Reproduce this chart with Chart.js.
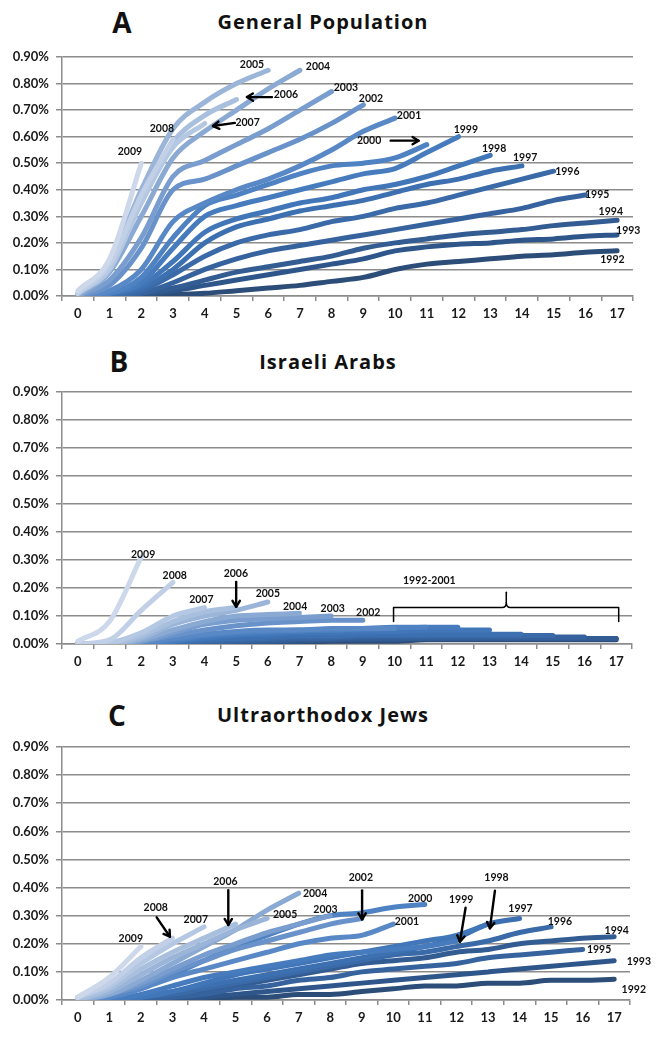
<!DOCTYPE html>
<html><head><meta charset="utf-8">
<script src="https://cdn.jsdelivr.net/npm/chart.js@4.4.1/dist/chart.umd.min.js"></script>
<style>
html,body{margin:0;padding:0;background:#fff}
body{width:658px;height:1048px;position:relative;overflow:hidden;font-family:Lato,'Open Sans',sans-serif}
.panel{position:absolute;left:0;width:658px}
.letter{position:absolute;font-family:'Open Sans',Lato,sans-serif;font-weight:bold;font-size:28px;transform:translate(-50%,-50%);color:#111;line-height:1}
.title{position:absolute;font-family:'Open Sans',Lato,sans-serif;font-weight:bold;font-size:20px;letter-spacing:1px;transform:translate(-50%,-50%);color:#111;white-space:nowrap;line-height:1}
canvas{display:block}
</style></head><body>
<div class="letter" style="left:122px;top:22px">A</div>
<div class="title" style="left:323px;top:22px">General Population</div>
<div class="panel" style="top:40px"><canvas id="cA" width="658" height="290"></canvas></div>

<div class="letter" style="left:119px;top:361px">B</div>
<div class="title" style="left:328px;top:362px">Israeli Arabs</div>
<div class="panel" style="top:372px"><canvas id="cB" width="658" height="306"></canvas></div>

<div class="letter" style="left:117px;top:715px">C</div>
<div class="title" style="left:323px;top:715px">Ultraorthodox Jews</div>
<div class="panel" style="top:727px"><canvas id="cC" width="658" height="307"></canvas></div>

<script>
// ---------- DATA ----------
const years = [1992,1993,1994,1995,1996,1997,1998,1999,2000,2001,2002,2003,2004,2005,2006,2007,2008,2009];
const xLabels = [0,1,2,3,4,5,6,7,8,9,10,11,12,13,14,15,16,17];
const yTicks = [0,0.1,0.2,0.3,0.4,0.5,0.6,0.7,0.8,0.9];

// Panel A: General Population (cumulative %, by years since cohort start)
const generalPopulation = [
  /*1992*/ [0,0,0,0.005,0.01,0.02,0.03,0.04,0.055,0.07,0.10,0.12,0.13,0.14,0.15,0.155,0.165,0.17],
  /*1993*/ [0,0,0.005,0.02,0.04,0.06,0.08,0.10,0.12,0.14,0.17,0.185,0.195,0.20,0.21,0.215,0.225,0.23],
  /*1994*/ [0,0,0.01,0.03,0.06,0.09,0.11,0.13,0.15,0.18,0.20,0.215,0.23,0.24,0.25,0.265,0.275,0.285],
  /*1995*/ [0,0,0.01,0.05,0.10,0.14,0.17,0.19,0.21,0.23,0.25,0.27,0.29,0.31,0.33,0.36,0.38],
  /*1996*/ [0,0,0.02,0.08,0.15,0.20,0.23,0.25,0.28,0.30,0.33,0.35,0.38,0.41,0.44,0.47],
  /*1997*/ [0,0.005,0.03,0.10,0.20,0.26,0.29,0.32,0.34,0.36,0.39,0.42,0.44,0.47,0.49],
  /*1998*/ [0,0.01,0.04,0.13,0.24,0.29,0.32,0.35,0.37,0.40,0.42,0.45,0.49,0.53],
  /*1999*/ [0,0.01,0.05,0.18,0.30,0.34,0.37,0.40,0.43,0.46,0.48,0.54,0.60],
  /*2000*/ [0,0.01,0.07,0.22,0.34,0.38,0.42,0.46,0.49,0.50,0.52,0.57],
  /*2001*/ [0,0.02,0.10,0.28,0.35,0.40,0.44,0.49,0.55,0.62,0.67],
  /*2002*/ [0,0.04,0.18,0.40,0.44,0.49,0.54,0.59,0.65,0.72],
  /*2003*/ [0,0.06,0.22,0.45,0.51,0.57,0.63,0.70,0.77],
  /*2004*/ [0,0.09,0.30,0.52,0.62,0.70,0.78,0.85],
  /*2005*/ [0.01,0.13,0.40,0.63,0.73,0.80,0.85],
  /*2006*/ [0.01,0.11,0.37,0.58,0.68,0.74],
  /*2007*/ [0.01,0.10,0.35,0.56,0.65],
  /*2008*/ [0.01,0.12,0.38,0.59],
  /*2009*/ [0.02,0.14,0.50]
];

// Panel B: Israeli Arabs
const israeliArabs = [
  /*1992*/ [0,0,0,0,0,0,0.005,0.005,0.01,0.01,0.01,0.015,0.015,0.015,0.015,0.015,0.015,0.015],
  /*1993*/ [0,0,0,0,0,0.005,0.01,0.01,0.015,0.015,0.015,0.02,0.02,0.02,0.02,0.02,0.02,0.02],
  /*1994*/ [0,0,0,0,0.005,0.01,0.01,0.015,0.015,0.02,0.02,0.02,0.02,0.02,0.02,0.02,0.02,0.02],
  /*1995*/ [0,0,0,0,0.005,0.01,0.015,0.02,0.02,0.025,0.025,0.025,0.025,0.025,0.025,0.025,0.025],
  /*1996*/ [0,0,0,0.005,0.01,0.015,0.02,0.025,0.025,0.03,0.03,0.03,0.03,0.03,0.03,0.03],
  /*1997*/ [0,0,0,0.005,0.015,0.02,0.025,0.03,0.03,0.035,0.035,0.035,0.035,0.035,0.035],
  /*1998*/ [0,0,0,0.01,0.02,0.03,0.035,0.04,0.04,0.045,0.045,0.05,0.05,0.05],
  /*1999*/ [0,0,0,0.01,0.025,0.035,0.04,0.045,0.05,0.05,0.055,0.06,0.06],
  /*2000*/ [0,0,0.005,0.015,0.03,0.04,0.045,0.05,0.05,0.055,0.06,0.06],
  /*2001*/ [0,0,0.005,0.02,0.035,0.045,0.05,0.05,0.055,0.055,0.055],
  /*2002*/ [0,0,0.01,0.03,0.05,0.065,0.075,0.08,0.085,0.085],
  /*2003*/ [0,0,0.01,0.04,0.07,0.085,0.09,0.095,0.10],
  /*2004*/ [0,0,0.015,0.05,0.08,0.10,0.105,0.11],
  /*2005*/ [0,0,0.02,0.07,0.10,0.12,0.15],
  /*2006*/ [0,0,0.03,0.08,0.115,0.13],
  /*2007*/ [0,0.005,0.04,0.10,0.13],
  /*2008*/ [0,0.015,0.12,0.22],
  /*2009*/ [0.01,0.08,0.31]
];

// Panel C: Ultraorthodox Jews
const ultraorthodoxJews = [
  /*1992*/ [0,0,0,0,0,0.01,0.01,0.02,0.02,0.03,0.04,0.05,0.05,0.06,0.06,0.07,0.07,0.074],
  /*1993*/ [0,0,0,0,0.01,0.02,0.03,0.04,0.05,0.06,0.07,0.08,0.09,0.10,0.11,0.12,0.13,0.14],
  /*1994*/ [0,0,0,0.01,0.03,0.05,0.07,0.09,0.11,0.13,0.14,0.15,0.17,0.18,0.20,0.21,0.22,0.225],
  /*1995*/ [0,0,0,0.01,0.02,0.04,0.05,0.07,0.08,0.10,0.11,0.12,0.13,0.15,0.16,0.17,0.18],
  /*1996*/ [0,0,0.01,0.02,0.04,0.06,0.08,0.10,0.12,0.14,0.16,0.17,0.19,0.21,0.24,0.26],
  /*1997*/ [0,0,0.01,0.03,0.05,0.07,0.09,0.11,0.13,0.15,0.17,0.19,0.22,0.27,0.29],
  /*1998*/ [0,0,0.01,0.03,0.06,0.09,0.11,0.13,0.15,0.17,0.19,0.21,0.23,0.27],
  /*1999*/ [0,0,0.02,0.05,0.08,0.10,0.12,0.14,0.16,0.17,0.18,0.19,0.21],
  /*2000*/ [0,0.01,0.04,0.09,0.14,0.19,0.23,0.27,0.30,0.31,0.33,0.34],
  /*2001*/ [0,0.01,0.04,0.08,0.11,0.14,0.17,0.20,0.22,0.23,0.27],
  /*2002*/ [0,0.02,0.05,0.10,0.14,0.18,0.21,0.24,0.27,0.29],
  /*2003*/ [0,0.02,0.06,0.11,0.16,0.20,0.24,0.27,0.30],
  /*2004*/ [0,0.02,0.07,0.13,0.19,0.25,0.32,0.38],
  /*2005*/ [0,0.03,0.09,0.15,0.20,0.25,0.29],
  /*2006*/ [0,0.04,0.11,0.17,0.22,0.27],
  /*2007*/ [0.01,0.05,0.13,0.20,0.26],
  /*2008*/ [0.01,0.06,0.15,0.22],
  /*2009*/ [0.01,0.08,0.19]
];

// Annotations: [text, x, y%]
const notesA = [['2005',5.49,0.872],['2004',7.57,0.863],['2006',6.56,0.757],['2007',5.35,0.652],
  ['2008',2.65,0.631],['2009',1.64,0.543],['2003',8.45,0.786],['2002',9.24,0.744],['2001',10.44,0.678],
  ['2000',9.18,0.585],['1999',12.23,0.625],['1998',13.12,0.556],['1997',14.1,0.522],['1996',15.43,0.468],
  ['1995',16.37,0.383],['1994',16.8,0.318],['1993',17.35,0.248],['1992',16.85,0.138]];
const arrowsA = [[6.12,0.749,5.33,0.749],[4.95,0.652,4.26,0.64],[9.86,0.585,10.74,0.585]];

const notesB = [['2009',2.06,0.32],['2008',3.06,0.244],['2007',3.9,0.16],['2006',4.99,0.252],
  ['2005',6.0,0.179],['2004',6.86,0.133],['2003',8.05,0.127],['2002',9.17,0.113],['1992-2001',11.1,0.226]];
const arrowsB = [[5.0,0.222,5.0,0.133]];
const bracketB = [9.97,13.53,17.08,0.08,0.13,0.185]; // left, mid, right, low, bar, top

const notesC = [['2009',1.68,0.217],['2008',2.47,0.328],['2007',3.74,0.285],['2006',4.68,0.421],
  ['2005',6.57,0.302],['2004',7.52,0.38],['2003',7.85,0.323],['2002',8.97,0.435],['2000',10.85,0.362],
  ['2001',10.43,0.279],['1999',12.15,0.356],['1998',13.27,0.435],['1997',14.03,0.324],['1996',15.28,0.279],
  ['1994',17.08,0.247],['1995',16.52,0.18],['1993',17.78,0.136],['1992',17.62,0.038]];
const arrowsC = [[2.5,0.294,2.92,0.225],[4.77,0.391,4.77,0.267],[9.01,0.39,9.01,0.287],
  [12.29,0.328,12.11,0.207],[13.22,0.389,13.06,0.255]];

// ---------- STYLE ----------
const seriesColors = ['#2c4d77','#2f568a','#335c93','#36639e','#3a6aa7','#3d70b0','#4176b8','#467cbe',
  '#4f82c2','#5888c5','#6892c9','#789dce','#8aa9d3','#9bb5d9','#a9bfde','#b5c8e3','#c1d0e7','#cdd8eb'];
const gridColor = '#8c8c8c';
const tickFont = {family:'Lato', weight:'bold', size:13};

function drawArrow(ctx, x1, y1, x2, y2) {
  const a = Math.atan2(y2 - y1, x2 - x1), L = 7;
  ctx.beginPath(); ctx.moveTo(x1, y1); ctx.lineTo(x2, y2); ctx.stroke();
  ctx.beginPath();
  ctx.moveTo(x2 - L * Math.cos(a - 0.55), y2 - L * Math.sin(a - 0.55));
  ctx.lineTo(x2, y2);
  ctx.lineTo(x2 - L * Math.cos(a + 0.55), y2 - L * Math.sin(a + 0.55));
  ctx.stroke();
}

function makeChart(id, series, notes, arrows, bracket, pad) {
  const annot = {
    id: 'annot' + id,
    afterDatasetsDraw(chart) {
      const {ctx} = chart, xs = chart.scales.x, ys = chart.scales.y;
      const X = v => xs.getPixelForValue(v), Y = v => ys.getPixelForValue(v);
      ctx.save();
      ctx.fillStyle = '#111';
      ctx.font = 'bold 10.5px Lato';
      ctx.textAlign = 'center'; ctx.textBaseline = 'middle';
      notes.forEach(n => ctx.fillText(n[0], X(n[1]), Y(n[2])));
      ctx.strokeStyle = '#000'; ctx.lineWidth = 2.4; ctx.lineCap = 'round'; ctx.lineJoin = 'round';
      arrows.forEach(a => drawArrow(ctx, X(a[0]), Y(a[1]), X(a[2]), Y(a[3])));
      if (bracket) {
        const [l, m, r, lo, bar, top] = bracket;
        ctx.lineWidth = 1.5;
        ctx.beginPath();
        ctx.moveTo(X(l), Y(lo)); ctx.lineTo(X(l), Y(bar)); ctx.lineTo(X(m) - 4, Y(bar));
        ctx.quadraticCurveTo(X(m), Y(bar), X(m), Y(bar) - 5);
        ctx.quadraticCurveTo(X(m), Y(bar), X(m) + 4, Y(bar));
        ctx.lineTo(X(r), Y(bar)); ctx.lineTo(X(r), Y(lo));
        ctx.stroke();
        ctx.beginPath(); ctx.moveTo(X(m), Y(bar) - 5); ctx.lineTo(X(m), Y(top)); ctx.stroke();
      }
      ctx.restore();
    }
  };
  const datasets = years.map((yr, i) => ({
    label: String(yr),
    data: series[i].map((v, k) => ({x: xLabels[k], y: v})),
    borderColor: seriesColors[i],
    backgroundColor: seriesColors[i],
    borderWidth: 5,
    pointRadius: 0,
    borderCapStyle: 'round',
    borderJoinStyle: 'round',
    cubicInterpolationMode: 'monotone',
    order: years.length - i
  }));
  return new Chart(document.getElementById(id), {
    type: 'line',
    data: {datasets},
    options: {
      responsive: false, animation: false, devicePixelRatio: 1,
      layout: {padding: pad},
      plugins: {legend: {display: false}, tooltip: {enabled: false}, title: {display: false}},
      scales: {
        x: {
          type: 'linear', min: -0.5, max: 17.5,
          afterBuildTicks: s => { s.ticks = xLabels.map(v => ({value: v})); },
          afterFit: s => { s.height = 28; },
          ticks: {autoSkip: false, maxRotation: 0, padding: 5, color: '#1a1a1a', font: tickFont,
                  callback: v => String(v)},
          grid: {offset: true, drawOnChartArea: false, drawTicks: true, tickLength: 5, color: gridColor, lineWidth: 1.5},
          border: {display: true, color: gridColor, width: 1.5}
        },
        y: {
          min: 0, max: 0.9,
          afterBuildTicks: s => { s.ticks = yTicks.map(v => ({value: v})); },
          afterFit: s => { s.width = 62; },
          ticks: {padding: 7, color: '#1a1a1a', font: tickFont, callback: v => v.toFixed(2) + '%'},
          grid: {color: gridColor, lineWidth: 1.5, tickLength: 6, drawTicks: true},
          border: {display: true, color: gridColor, width: 1.5}
        }
      }
    },
    plugins: [annot]
  });
}

makeChart('cA', generalPopulation, notesA, arrowsA, null, {left: 0, right: 25, top: 17, bottom: 6});
makeChart('cB', israeliArabs, notesB, arrowsB, bracketB, {left: 0, right: 26, top: 20, bottom: 6});
makeChart('cC', ultraorthodoxJews, notesC, arrowsC, null, {left: 0, right: 28, top: 20, bottom: 6});
</script>
</body></html>
